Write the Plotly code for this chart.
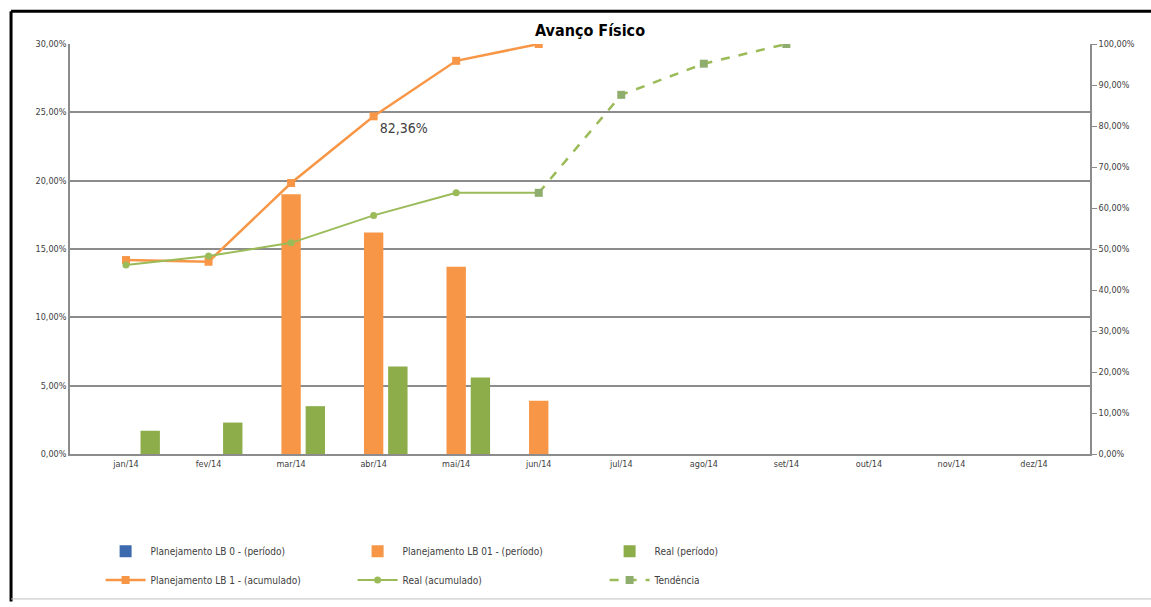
import plotly.graph_objects as go

months = ["jan/14", "fev/14", "mar/14", "abr/14", "mai/14", "jun/14",
          "jul/14", "ago/14", "set/14", "out/14", "nov/14", "dez/14"]

lb0_periodo = [0, 0, 0, 0, 0, 0, 0, 0, 0, 0, 0, 0]
lb01_periodo = [None, None, 0.190, 0.162, 0.137, 0.039, None, None, None, None, None, None]
real_periodo = [0.017, 0.023, 0.035, 0.064, 0.056, None, None, None, None, None, None, None]

lb1_acum = [0.473, 0.469, 0.661, 0.8236, 0.959, 1.0, None, None, None, None, None, None]
real_acum = [0.461, 0.483, 0.515, 0.582, 0.637, 0.637, None, None, None, None, None, None]
tendencia = [None, None, None, None, None, 0.637, 0.876, 0.952, 1.0, None, None, None]
lb1_labels = ["", "", "", "82,36%", "", "", "", "", "", "", "", ""]

left_ticks = [0, 0.05, 0.10, 0.15, 0.20, 0.25, 0.30]
right_ticks = [0, 0.1, 0.2, 0.3, 0.4, 0.5, 0.6, 0.7, 0.8, 0.9, 1.0]

ORANGE = "#F79646"
GREEN_BAR = "#8CAD4A"
GREEN_LINE = "#9BBB59"
TEND = "#8FAE6E"
BLUE = "#3D6AAF"
GRID = "#8C8C8C"
TXT = "#404040"
FONT = "Liberation Sans Narrow, DejaVu Sans Condensed, Arial Narrow, Liberation Sans, sans-serif"

fig = go.Figure()

fig.add_trace(go.Bar(x=months, y=lb0_periodo, name="Planejamento LB 0 - (período)",
                     marker=dict(color=BLUE, line=dict(width=0)), legend="legend"))
fig.add_trace(go.Bar(x=months, y=lb01_periodo, name="Planejamento LB 01 - (período)",
                     marker=dict(color=ORANGE, line=dict(width=0)), legend="legend"))
fig.add_trace(go.Bar(x=months, y=real_periodo, name="Real (período)",
                     marker=dict(color=GREEN_BAR, line=dict(width=0)), legend="legend"))

fig.add_trace(go.Scatter(x=months, y=lb1_acum, name="Planejamento LB 1 - (acumulado)",
                         yaxis="y2", mode="lines+markers+text", text=lb1_labels,
                         textposition="bottom right",
                         textfont=dict(size=14, color=TXT, family=FONT),
                         line=dict(color=ORANGE, width=2.5),
                         marker=dict(symbol="square", size=8, color=ORANGE),
                         legend="legend2"))
fig.add_trace(go.Scatter(x=months, y=real_acum, name="Real (acumulado)",
                         yaxis="y2", mode="lines+markers",
                         line=dict(color=GREEN_LINE, width=2),
                         marker=dict(symbol="circle", size=7, color=GREEN_LINE),
                         legend="legend2"))
fig.add_trace(go.Scatter(x=months, y=tendencia, name="Tendência",
                         yaxis="y2", mode="lines+markers",
                         line=dict(color=GREEN_LINE, width=2.5, dash="dash"),
                         marker=dict(symbol="square", size=8, color=TEND),
                         legend="legend2"))

border = dict(color="black", width=3)
shapes = [
    dict(type="line", xref="paper", yref="paper", x0=-0.0578, x1=-0.0578, y0=-0.36, y1=1.0799, line=border),
    dict(type="line", xref="paper", yref="paper", x0=-0.0578, x1=1.08, y0=1.0799, y1=1.0799, line=border),
    dict(type="line", xref="paper", yref="paper", x0=-0.0578, x1=1.08, y0=-0.3535, y1=-0.3535,
         line=dict(color="#BFBFBF", width=1)),
]

fig.update_layout(
    width=1151, height=607,
    margin=dict(l=70, r=61, t=44, b=150),
    paper_bgcolor="white", plot_bgcolor="white",
    separators=",.",
    font=dict(family=FONT, size=10, color=TXT),
    title=dict(text="<b>Avanço Físico</b>", x=0.5126, xanchor="center",
               y=1 - 30 / 607, yanchor="middle",
               font=dict(size=16, color="black", family=FONT)),
    barmode="group", bargap=0.12, bargroupgap=0.2,
    xaxis=dict(showgrid=False, showline=True, linecolor=GRID, linewidth=1.5,
               ticks="", tickfont=dict(size=9, color=TXT), zeroline=False),
    yaxis=dict(range=[0, 0.30], tickvals=left_ticks, tickformat=".2%",
               showgrid=True, gridcolor=GRID, gridwidth=1.5,
               showline=True, linecolor=GRID, linewidth=1.5,
               zeroline=False, tickfont=dict(size=9, color=TXT)),
    yaxis2=dict(range=[0, 1.0], tickvals=right_ticks, tickformat=".2%",
                overlaying="y", side="right", showgrid=False,
                showline=True, linecolor=GRID, linewidth=1.5,
                ticks="outside", ticklen=5, tickcolor=GRID,
                zeroline=False, tickfont=dict(size=9, color=TXT)),
    legend=dict(orientation="h", x=0.03, xanchor="left", y=-0.237, yanchor="middle",
                entrywidth=197, entrywidthmode="pixels", itemwidth=40,
                font=dict(size=10, color=TXT, family=FONT), bgcolor="rgba(0,0,0,0)",
                traceorder="normal"),
    legend2=dict(orientation="h", x=0.03, xanchor="left", y=-0.3075, yanchor="middle",
                 entrywidth=197, entrywidthmode="pixels", itemwidth=40,
                 font=dict(size=10, color=TXT, family=FONT), bgcolor="rgba(0,0,0,0)",
                 traceorder="normal"),
    shapes=shapes,
)

fig.write_html("out.html")
